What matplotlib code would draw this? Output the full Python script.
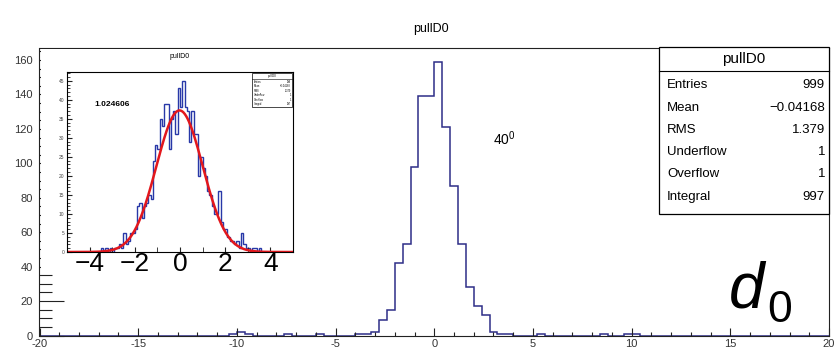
import numpy as np
import matplotlib
matplotlib.use("Agg")
import matplotlib.pyplot as plt
from matplotlib.patches import Rectangle
from matplotlib.ticker import MultipleLocator

plt.rcParams["font.family"] = ["Liberation Sans", "DejaVu Sans"]

W, H = 837, 351

# main histogram, 100 bins on [-20, 20]; non-empty bins given by left edge
main_range = (-20.0, 20.0)
main_nbins = 100
main_left = [-10.4, -10.0, -9.6, -7.6, -6.0, -4.0, -3.6, -3.2, -2.8, -2.4,
             -2.0, -1.6, -1.2, -0.8, -0.4, 0.0, 0.4, 0.8, 1.2, 1.6,
             2.0, 2.4, 2.8, 3.2, 3.6, 5.2, 8.4, 9.6, 10.0]
main_count = [1, 2, 1, 1, 1, 1, 1, 2, 9, 15,
              42, 53, 98, 139, 139, 159, 121, 87, 53, 28,
              17, 12, 2, 1, 1, 1, 1, 1, 1]
main_xticks = [-20, -15, -10, -5, 0, 5, 10, 15, 20]
main_xlabels = ["-20", "-15", "-10", "-5", "0", "5", "10", "15", "20"]
main_yticks = [0, 20, 40, 60, 80, 100, 120, 140, 160]

# inset histogram, 100 bins on [-5, 5]; counts from -3.5 upward
inset_range = (-5.0, 5.0)
inset_nbins = 100
inset_first_left = -3.5
inset_count = [1, 0, 1, 0, 1, 0, 1, 1, 2, 1,
               5, 2, 3, 5, 5, 6, 12, 13, 9, 12,
               13, 15, 14, 24, 28, 27, 35, 33, 39, 39,
               27, 35, 37, 31, 43, 38, 45, 38, 37, 29,
               37, 31, 31, 20, 25, 22, 20, 16, 15, 12,
               10, 10, 16, 8, 6, 6, 4, 3, 3, 2,
               3, 1, 5, 2, 1, 1, 0, 1, 1, 0, 1]
inset_xticks = [-4, -2, 0, 2, 4]
inset_xlabels = ["\u22124", "\u22122", "0", "2", "4"]

# gaussian fit shown in the inset
fit_const, fit_mean, fit_sigma = 37.2, -0.02, 1.024606

stats_names = ["Entries", "Mean", "RMS", "Underflow", "Overflow", "Integral"]
stats_values = ["999", "\u22120.04168", "1.379", "1", "1", "997"]

hist_color = "#2e2e88"


def fill_bins(lo, hi, n, lefts, counts):
    edges = np.linspace(lo, hi, n + 1)
    vals = np.zeros(n)
    width = (hi - lo) / n
    for x, c in zip(lefts, counts):
        vals[int(round((x - lo) / width))] = c
    return edges, vals


def fx(px):
    return px / W


def fy(py):
    return 1 - py / H


fig = plt.figure(figsize=(W / 100, H / 100), dpi=100)

# main frame
ax = fig.add_axes([fx(39.5), fy(335.5), (829 - 39.5) / W, (335.5 - 48) / H])
edges, vals = fill_bins(*main_range, main_nbins, main_left, main_count)
ax.stairs(vals, edges, color=hist_color, lw=1.1)
ax.set_xlim(*main_range)
ax.set_ylim(0, 167)
ax.set_xticks(main_xticks)
ax.set_xticklabels(main_xlabels)
ax.set_yticks(main_yticks)
ax.xaxis.set_minor_locator(MultipleLocator(1))
ax.yaxis.set_minor_locator(MultipleLocator(5))
ax.tick_params(which="both", direction="in", top=False, right=False, labelsize=8,
               labelcolor="#333333", color="#222222", width=0.8)
ax.tick_params(axis="x", which="major", length=5.8, pad=2.5)
ax.tick_params(axis="x", which="minor", length=3.0)
ax.tick_params(axis="y", which="major", length=18, pad=5)
ax.tick_params(axis="y", which="minor", length=9.4)
for s in ax.spines.values():
    s.set_linewidth(0.8)
    s.set_color("#222222")

fig.text(fx(431), fy(29), "pullD0", ha="center", va="center", fontsize=9)

# stats box
fig.patches.append(Rectangle((fx(659), fy(214)), (829 - 659) / W, (214 - 47) / H,
                             transform=fig.transFigure, facecolor="white",
                             edgecolor="black", lw=0.9, zorder=5))
fig.lines.append(plt.Line2D([fx(659), fx(829)], [fy(71), fy(71)],
                            transform=fig.transFigure, color="black", lw=0.8, zorder=6))
fig.text(fx(744), fy(59), "pullD0", ha="center", va="center", fontsize=11, zorder=7)
row_y = [85, 108, 130, 152, 174, 197]
for name, val, yy in zip(stats_names, stats_values, row_y):
    fig.text(fx(667), fy(yy), name, ha="left", va="center", fontsize=9.5, zorder=7)
    fig.text(fx(825), fy(yy), val, ha="right", va="center", fontsize=9.5, zorder=7)

fig.text(fx(493), fy(139), r"$\mathregular{40^0}$", ha="left", va="center", fontsize=10)
fig.text(fx(729), fy(307), "d", style="italic", ha="left", va="baseline", fontsize=46)
fig.text(fx(767), fy(322), "0", ha="left", va="baseline", fontsize=32)

# inset pad (white, covers the main frame below it)
pad = fig.add_axes([fx(41), fy(272), (300 - 41) / W, (272 - 49) / H])
pad.set_facecolor("white")
pad.set_xticks([])
pad.set_yticks([])
for s in pad.spines.values():
    s.set_visible(False)
pad.set_zorder(3)

fig.text(fx(180), fy(57), "pullD0", ha="center", va="center", fontsize=5, zorder=10)

ins = fig.add_axes([fx(67), fy(252), 226 / W, 180 / H])
ins.set_zorder(4)
iedges, ivals = fill_bins(*inset_range, inset_nbins,
                          np.round(inset_first_left + 0.1 * np.arange(len(inset_count)), 2),
                          inset_count)
ins.stairs(ivals, iedges, color="#2838a8", lw=1.0)
xf = np.linspace(*inset_range, 500)
ins.plot(xf, fit_const * np.exp(-0.5 * ((xf - fit_mean) / fit_sigma) ** 2),
         color="#e3171c", lw=1.8)
ins.set_xlim(*inset_range)
ins.set_ylim(0, 47.3)
ins.set_xticks(inset_xticks)
ins.set_xticklabels(inset_xlabels)
ins.xaxis.set_minor_locator(MultipleLocator(1))
ins.set_yticks(range(0, 50, 5))
ins.yaxis.set_minor_locator(MultipleLocator(1))
ins.tick_params(which="both", direction="in", top=False, right=False, color="#222222")
ins.tick_params(axis="x", which="both", length=3.6, labelsize=19, pad=0)
ins.tick_params(axis="y", which="major", length=3.6, labelsize=3.5, pad=2,
                labelcolor="#444444")
ins.tick_params(axis="y", which="minor", length=1.8)
for s in ins.spines.values():
    s.set_linewidth(0.8)

ins.text(0.12, 0.82, "1.024606", transform=ins.transAxes, fontsize=6,
         fontweight="bold", ha="left", va="center")

# tiny stats box of the inset
ins.add_patch(Rectangle((0.819, 0.806), 0.177, 0.188, transform=ins.transAxes,
                        facecolor="white", edgecolor="black", lw=0.5, zorder=5))
ins.plot([0.819, 0.996], [0.962, 0.962], transform=ins.transAxes, color="black",
         lw=0.4, zorder=6)
ins.text(0.907, 0.978, "pullD0", transform=ins.transAxes, fontsize=2.2,
         ha="center", va="center", zorder=7)
for i, (name, val) in enumerate(zip(stats_names, stats_values)):
    yy = 0.945 - i * 0.025
    ins.text(0.825, yy, name, transform=ins.transAxes, fontsize=1.8,
             ha="left", va="center", zorder=7)
    ins.text(0.99, yy, val, transform=ins.transAxes, fontsize=1.8,
             ha="right", va="center", zorder=7)

fig.savefig("out.png", dpi=100)
